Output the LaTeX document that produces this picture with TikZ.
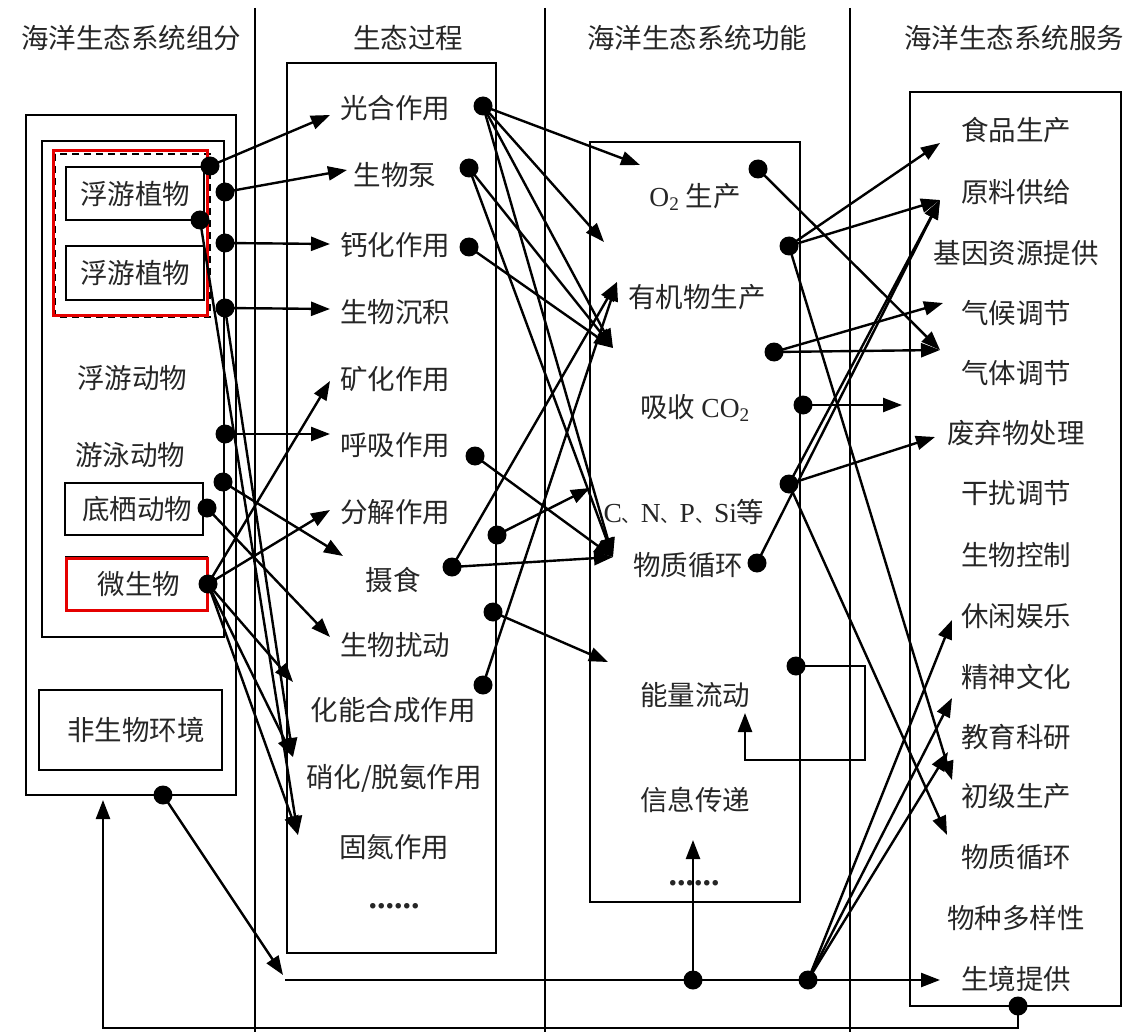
\documentclass[tikz,border=0pt]{standalone}
\usepackage{fontspec}
\setmainfont{Liberation Serif}
\newfontfamily\cjk{Noto Sans CJK SC}
\newfontfamily\lat{Liberation Serif}
\usetikzlibrary{arrows.meta}
\newcommand{\dun}{{\fontsize{19}{19}\selectfont 、}}
\begin{document}
\begin{tikzpicture}[x=1pt,y=-1pt,
  txt/.style={font=\cjk\fontsize{27.5}{30}\selectfont, text=black!85, inner sep=0pt},
  dots/.style={font=\lat\bfseries\fontsize{34}{34}\selectfont, text=black!85, inner sep=0pt},
  box/.style={draw, line width=2pt},
  sep/.style={line width=2pt},
  redbox/.style={draw=red!90!black, line width=3pt},
  conn/.style={line width=2.4pt, -{Triangle[length=19pt,width=14pt]}},
  dotc/.style={circle, fill=black, inner sep=0pt, minimum size=19pt}
]
\useasboundingbox (0,0) rectangle (1140,1032);
\fill[white] (0,0) rectangle (1140,1032);

% separators
\draw[sep] (255,8) -- (255,1032);
\draw[sep] (545,8) -- (545,1032);
\draw[sep] (850,8) -- (850,1032);

% titles
\node[txt] (h1) at (131,38) {海洋生态系统组分};
\node[txt] (h2) at (408,38) {生态过程};
\node[txt] (h3) at (697,38) {海洋生态系统功能};
\node[txt] (h4) at (1014,38) {海洋生态系统服务};

% column boxes
\draw[box] (26,115) rectangle (236,795);
\draw[box] (42,141) rectangle (224,637);
\draw[box] (287,63) rectangle (496,953);
\draw[box] (590,142) rectangle (800,902);
\draw[box] (910,92) rectangle (1121,1006);

% column 1
\draw[line width=2pt, dashed, dash pattern=on 7pt off 5pt] (55,154) rectangle (210,317);
\draw[box] (66,167) rectangle (204,220);
\draw[box] (66,246) rectangle (204,300);
\node[txt] (fy1) at (135,194) {浮游植物};
\node[txt] (fy2) at (135,273) {浮游植物};
\node[txt] (fd) at (132,378) {浮游动物};
\node[txt] (yy) at (130,455) {游泳动物};
\draw[box] (65,483) rectangle (203,535);
\node[txt] (dq) at (137,509) {底栖动物};
\draw[box] (66,557) rectangle (207,610);
\node[txt] (wsw) at (139,584) {微生物};
\draw[box] (39,690) rectangle (222,770);
\node[txt] (fsw) at (136,730) {非生物环境};
\draw[redbox] (53,151) rectangle (207,315);
\draw[redbox] (66,558) rectangle (207,610);

% column 2
\node[txt] (gh) at (395,108) {光合作用};
\node[txt] (swb) at (395,175) {生物泵};
\node[txt] (gaih) at (395,245) {钙化作用};
\node[txt] (swcj) at (395,312) {生物沉积};
\node[txt] (kh) at (395,379) {矿化作用};
\node[txt] (hx) at (395,445) {呼吸作用};
\node[txt] (fj) at (395,512) {分解作用};
\node[txt] (ss) at (393,580) {摄食};
\node[txt] (swrd) at (395,645) {生物扰动};
\node[txt] (hnhc) at (393,710) {化能合成作用};
\node[txt] (xh) at (394,778) {硝化/脱氨作用};
\node[txt] (gd) at (394,847) {固氮作用};
\node[dots] (el2) at (394,906) {......};

% column 3
\node[txt] (o2) at (695,197) {{\lat O\textsubscript{2}} 生产};
\node[txt] (yjw) at (697,297) {有机物生产};
\node[txt] (co2) at (695,408) {吸收 {\lat CO\textsubscript{2}}};
\node[txt] (cnp) at (684,512) {{\lat C}\dun{\lat N}\dun{\lat P}\dun{\lat Si}等};
\node[txt] (wzxh) at (688,565) {物质循环};
\node[txt] (nlld) at (695,695) {能量流动};
\node[txt] (xxcd) at (695,800) {信息传递};
\node[dots] (el3) at (694,883) {......};

% column 4
\node[txt] (s1) at (1016,130) {食品生产};
\node[txt] (s2) at (1016,192) {原料供给};
\node[txt] (s3) at (1016,253) {基因资源提供};
\node[txt] (s4) at (1016,313) {气候调节};
\node[txt] (s5) at (1016,373) {气体调节};
\node[txt] (s6) at (1016,433) {废弃物处理};
\node[txt] (s7) at (1016,493) {干扰调节};
\node[txt] (s8) at (1016,555) {生物控制};
\node[txt] (s9) at (1016,616) {休闲娱乐};
\node[txt] (s10) at (1016,677) {精神文化};
\node[txt] (s11) at (1016,737) {教育科研};
\node[txt] (s12) at (1016,796) {初级生产};
\node[txt] (s13) at (1016,857) {物质循环};
\node[txt] (s14) at (1016,918) {物种多样性};
\node[txt] (s15) at (1016,979) {生境提供};

% dots
\node[dotc] (d1) at (210,166) {};
\node[dotc] (d2) at (225,192) {};
\node[dotc] (d3) at (200,220) {};
\node[dotc] (d4) at (225,243) {};
\node[dotc] (d5) at (225,308) {};
\node[dotc] (d6) at (225,434) {};
\node[dotc] (d7) at (223,482) {};
\node[dotc] (d8) at (207,508) {};
\node[dotc] (d9) at (208,584) {};
\node[dotc] (p1) at (483,106) {};
\node[dotc] (p2) at (469,168) {};
\node[dotc] (p3) at (469,247) {};
\node[dotc] (p4) at (475,456) {};
\node[dotc] (p5) at (497,535) {};
\node[dotc] (p6) at (452,567) {};
\node[dotc] (p7) at (493,612) {};
\node[dotc] (p8) at (483,685) {};
\node[dotc] (q1) at (758,169) {};
\node[dotc] (q2) at (789,246) {};
\node[dotc] (q3) at (774,352) {};
\node[dotc] (q4) at (803,405) {};
\node[dotc] (q5) at (789,484) {};
\node[dotc] (q6) at (757,563) {};
\node[dotc] (q7) at (796,666) {};
\node[dotc] (b0) at (163,795) {};
\node[dotc] (b1) at (693,980) {};
\node[dotc] (b2) at (808,980) {};
\node[dotc] (b3) at (1018,1006) {};

% arrow tip coordinates
\coordinate (tgh) at (330,115);
\coordinate (tswb) at (347,170);
\coordinate (tgaih) at (330,244);
\coordinate (tswcj) at (330,309);
\coordinate (tkh) at (330,381);
\coordinate (thx) at (330,434);
\coordinate (tfj) at (330,510);
\coordinate (tss) at (343,556);
\coordinate (tswrd) at (330,637);
\coordinate (thnhc) at (293,682);
\coordinate (txh) at (293,757);
\coordinate (tgd) at (298,835);

\coordinate (tA) at (640,165);
\coordinate (tB) at (604,242);
\coordinate (tC) at (613,348);
\coordinate (tD) at (617,282);
\coordinate (tE) at (590,488);
\coordinate (tF) at (613,557);
\coordinate (tG) at (608,662);

\coordinate (ts1) at (940,143);
\coordinate (ts2) at (940,200);
\coordinate (ts4) at (943,303);
\coordinate (ts5) at (940,350);
\coordinate (tco) at (902,405);
\coordinate (ts6) at (935,437);
\coordinate (ts9) at (952,620);
\coordinate (ts10) at (952,698);
\coordinate (ts11) at (948,752);
\coordinate (ts12) at (952,780);
\coordinate (ts13) at (947,835);
\coordinate (ts15) at (940,980);

\coordinate (lp1) at (865,666);
\coordinate (lp2) at (745,760);
\coordinate (tlp) at (745,713);
\coordinate (tinfo) at (693,840);
\coordinate (tb0) at (283,975);
\coordinate (hl) at (285,980);
\coordinate (bl) at (103,1028);
\coordinate (tbl) at (103,800);

% column 1 -> column 2
\draw[conn] (d1.center) -- (tgh);
\draw[conn] (d2.center) -- (tswb);
\draw[conn] (d4.center) -- (tgaih);
\draw[conn] (d5.center) -- (tswcj);
\draw[conn] (d3.center) -- (tgd);
\draw[conn] (d5.center) -- (txh);
\draw[conn] (d6.center) -- (thx);
\draw[conn] (d7.center) -- (tss);
\draw[conn] (d8.center) -- (tswrd);
\draw[conn] (d9.center) -- (tkh);
\draw[conn] (d9.center) -- (tfj);
\draw[conn] (d9.center) -- (thnhc);
\draw[conn] (d9.center) -- (txh);
\draw[conn] (d9.center) -- (tgd);

% column 2 -> column 3
\draw[conn] (p1.center) -- (tA);
\draw[conn] (p1.center) -- (tB);
\draw[conn] (p1.center) -- (tC);
\draw[conn] (p1.center) -- (tF);
\draw[conn] (p2.center) -- (tC);
\draw[conn] (p2.center) -- (tF);
\draw[conn] (p3.center) -- (tC);
\draw[conn] (p4.center) -- (tF);
\draw[conn] (p5.center) -- (tE);
\draw[conn] (p6.center) -- (tF);
\draw[conn] (p6.center) -- (tD);
\draw[conn] (p7.center) -- (tG);
\draw[conn] (p8.center) -- (tD);

% column 3 -> column 4
\draw[conn] (q1.center) -- (ts5);
\draw[conn] (q2.center) -- (ts1);
\draw[conn] (q2.center) -- (ts2);
\draw[conn] (q2.center) -- (ts12);
\draw[conn] (q3.center) -- (ts4);
\draw[conn] (q3.center) -- (ts5);
\draw[conn] (q4.center) -- (tco);
\draw[conn] (q5.center) -- (ts2);
\draw[conn] (q5.center) -- (ts6);
\draw[conn] (q5.center) -- (ts13);
\draw[conn] (q6.center) -- (ts2);
\draw[conn] (q7.center) -- (lp1) |- (lp2) -- (tlp);

% bottom connectors
\draw[conn] (b0.center) -- (tb0);
\draw[conn] (hl) -- (ts15);
\draw[conn] (b1.center) -- (tinfo);
\draw[conn] (b2.center) -- (ts9);
\draw[conn] (b2.center) -- (ts10);
\draw[conn] (b2.center) -- (ts11);
\draw[conn] (b3.center) |- (bl) -- (tbl);
\end{tikzpicture}
\end{document}
